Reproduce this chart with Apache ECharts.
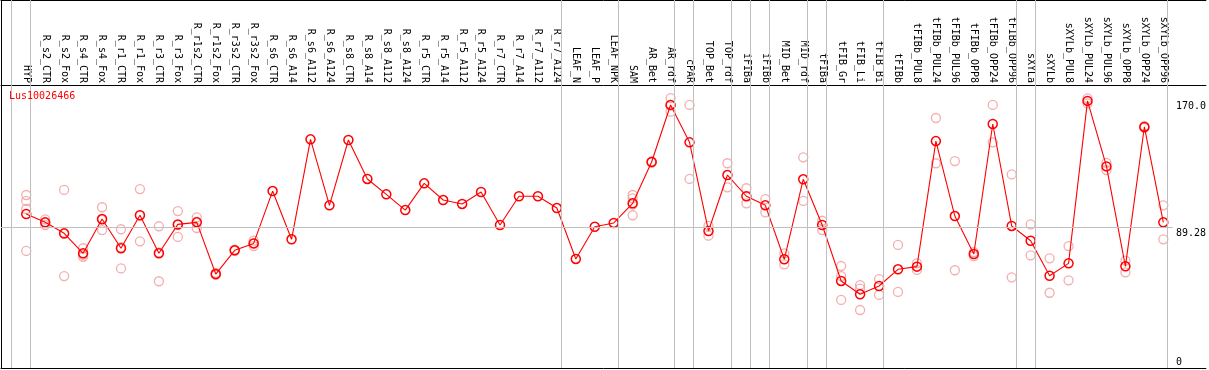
<!DOCTYPE html>
<html>
<head>
<meta charset="utf-8">
<script src="https://cdn.jsdelivr.net/npm/echarts@6/dist/echarts.min.js"></script>
<style>
html,body{margin:0;padding:0;background:#fff;}
#chart{width:1209px;height:370px;}
</style>
</head>
<body>
<div id="chart"></div>
<script>
// ---------------- data ----------------
const geneName = 'Lus10026466';
const categories = ['HYP','R_s2_CTR','R_s2_Fox','R_s4_CTR','R_s4_Fox','R_r1_CTR','R_r1_Fox','R_r3_CTR','R_r3_Fox',
  'R_r1s2_CTR','R_r1s2_Fox','R_r3s2_CTR','R_r3s2_Fox','R_s6_CTR','R_s6_A14','R_s6_A112','R_s6_A124',
  'R_s8_CTR','R_s8_A14','R_s8_A112','R_s8_A124','R_r5_CTR','R_r5_A14','R_r5_A112','R_r5_A124',
  'R_r7_CTR','R_r7_A14','R_r7_A112','R_r7_A124','LEAF_N','LEAF_P','LEAF_NPK','SAM','AR_Bet','AR_rdf',
  'cPAR','TOP_Bet','TOP_rdf','iFIBa','iFIBb','MID_Bet','MID_rdf','tFIBa','tFIB_Gr','tFIB_Li','tFIB_Bi',
  'tFIBb','tFIBb_PUL8','tFIBb_PUL24','tFIBb_PUL96','tFIBb_OPP8','tFIBb_OPP24','tFIBb_OPP96',
  'sXYLa','sXYLb','sXYLb_PUL8','sXYLb_PUL24','sXYLb_PUL96','sXYLb_OPP8','sXYLb_OPP24','sXYLb_OPP96'];
const meanValues = [98.0,92.7,85.7,73.0,94.8,76.2,97.2,73.0,91.4,
  92.7,59.8,74.9,79.3,112.6,81.9,145.5,103.5,
  145.1,120.3,110.5,100.5,117.5,106.9,104.4,112.0,
  91.0,109.3,109.3,101.8,69.4,89.9,92.3,104.8,131.1,167.4,
  143.6,87.2,122.8,109.3,103.5,69.2,120.1,91.0,55.4,46.9,52.2,
  62.8,64.5,144.4,96.7,72.5,155.3,90.4,
  81.0,58.7,66.6,170.0,128.3,64.7,153.4,92.7];
const replicateValues = [
  [110.1,106.3,101.2,74.5],[94.6,91.0,92.5],[113.3,58.5,85.3],[76.2,70.8,72.0],[102.3,87.8,94.3],
  [88.3,63.4,76.9],[113.9,80.6,97.1],[90.2,55.2,73.6],[99.9,83.4,90.9],
  [95.9,89.1,93.1],[60.5,59.2,59.7],[75.3,74.5],[77.6,81.0,79.3],[],[],[],[],
  [],[],[],[],[],[],[],[],
  [],[],[],[],[],[],[],[110.1,108.0,104.0,97.2],[131.5,130.7],[171.8,163.1,167.3],
  [167.4,120.3],[84.2,90.4],[130.3,115.0],[114.4,104.8],[107.5,99.1],[73.0,66.0],[134.1,106.3],[93.7,87.8],[64.9,58.5,43.3],[52.8,50.5,36.9],[56.6,46.5],
  [78.3,48.4],[66.6,62.4],[159.1,130.3],[131.7,62.2],[73.8,71.2],[167.4,143.6],[123.2,57.7],
  [91.4,71.7],[69.8,47.9],[77.6,55.8],[171.6,168.4],[130.6,126.0],[68.3,60.9],[154.0,152.8],[103.5,81.9]];
const separatorAfter = [-1,0,28,31,34,35,37,38,39,41,42,45,52,53,60];
const yTickValues = [0, 89.28, 170];
const yTickLabels = ['0', '89.28', '170.0'];
const refLineValue = 89.28;

// ---------------- layout ----------------
const X_MIN = -1.3316, X_MAX = 62.247;
const Y_MAX = 234.2;
const MONO = 'DejaVu Sans Mono';

const chart = echarts.init(document.getElementById('chart'), null, {renderer: 'canvas'});

const mainData = meanValues.map((v, i) => [i, v]);
const repData = [];
replicateValues.forEach((arr, i) => arr.forEach(v => repData.push([i, v])));

const sepLines = separatorAfter.map(i => ({xAxis: i + 0.22}));

const option = {
  animation: false,
  backgroundColor: '#fff',
  title: {
    text: geneName, left: 9, top: 91, padding: 0,
    textStyle: {color: '#ff0000', fontSize: 10, fontFamily: MONO, fontWeight: 'normal'}
  },
  grid: {left: 1, right: 0, top: 0, bottom: 2, containLabel: false},
  xAxis: [
    {
      type: 'value', min: X_MIN, max: X_MAX, position: 'top', offset: -85,
      axisLine: {show: true, onZero: false, lineStyle: {color: '#000', width: 1}},
      axisTick: {show: false}, splitLine: {show: false},
      axisLabel: {
        customValues: categories.map((c, i) => i),
        formatter: v => categories[Math.round(v)] || '',
        rotate: 90, margin: 2, fontSize: 10, fontFamily: MONO, color: '#000'
      }
    },
    {
      type: 'value', min: X_MIN, max: X_MAX, position: 'top', offset: 0,
      axisLine: {show: true, onZero: false, lineStyle: {color: '#000', width: 1}},
      axisTick: {show: false}, splitLine: {show: false}, axisLabel: {show: false}
    },
    {
      type: 'value', min: X_MIN, max: X_MAX, position: 'bottom', offset: 0,
      axisLine: {show: true, onZero: false, lineStyle: {color: '#000', width: 1}},
      axisTick: {show: false}, splitLine: {show: false}, axisLabel: {show: false}
    }
  ],
  yAxis: [
    {
      type: 'value', min: 0, max: Y_MAX, position: 'right', offset: -31,
      axisLine: {show: false}, axisTick: {show: false}, splitLine: {show: false},
      axisLabel: {
        customValues: yTickValues,
        formatter: v => {
          const idx = yTickValues.indexOf(v);
          const t = idx >= 0 ? yTickLabels[idx] : '';
          return v === 0 ? '{b|' + t + '}' : '{t|' + t + '}';
        },
        margin: 1, align: 'left', fontSize: 10, fontFamily: MONO, color: '#000',
        rich: {
          t: {padding: [11, 0, 0, 0], fontSize: 10, fontFamily: MONO, color: '#000'},
          b: {padding: [0, 0, 11, 0], fontSize: 10, fontFamily: MONO, color: '#000'}
        }
      }
    },
    {
      type: 'value', min: 0, max: Y_MAX, position: 'left',
      axisLine: {show: true, onZero: false, lineStyle: {color: '#000', width: 1}},
      axisTick: {show: false}, splitLine: {show: false}, axisLabel: {show: false}
    }
  ],
  series: [
    {
      type: 'line', data: [], z: 1, silent: true,
      markLine: {
        silent: true, symbol: 'none', animation: false,
        label: {show: false},
        lineStyle: {color: '#c0c0c0', width: 1, type: 'solid'},
        data: sepLines.concat([[{coord: [X_MIN, refLineValue]}, {coord: [60.5, refLineValue]}]])
      }
    },
    {
      type: 'scatter', data: repData, z: 2, silent: true,
      symbol: 'circle', symbolSize: 9,
      itemStyle: {color: 'rgba(0,0,0,0)', borderColor: '#f09a9a', borderWidth: 1.3}
    },
    {
      type: 'line', data: mainData, z: 3, silent: true,
      symbol: 'circle', symbolSize: 9, showAllSymbol: true,
      lineStyle: {color: '#ff0000', width: 1.1},
      itemStyle: {color: 'rgba(0,0,0,0)', borderColor: '#ff0000', borderWidth: 1.5}
    }
  ]
};
chart.setOption(option);
</script>
</body>
</html>
